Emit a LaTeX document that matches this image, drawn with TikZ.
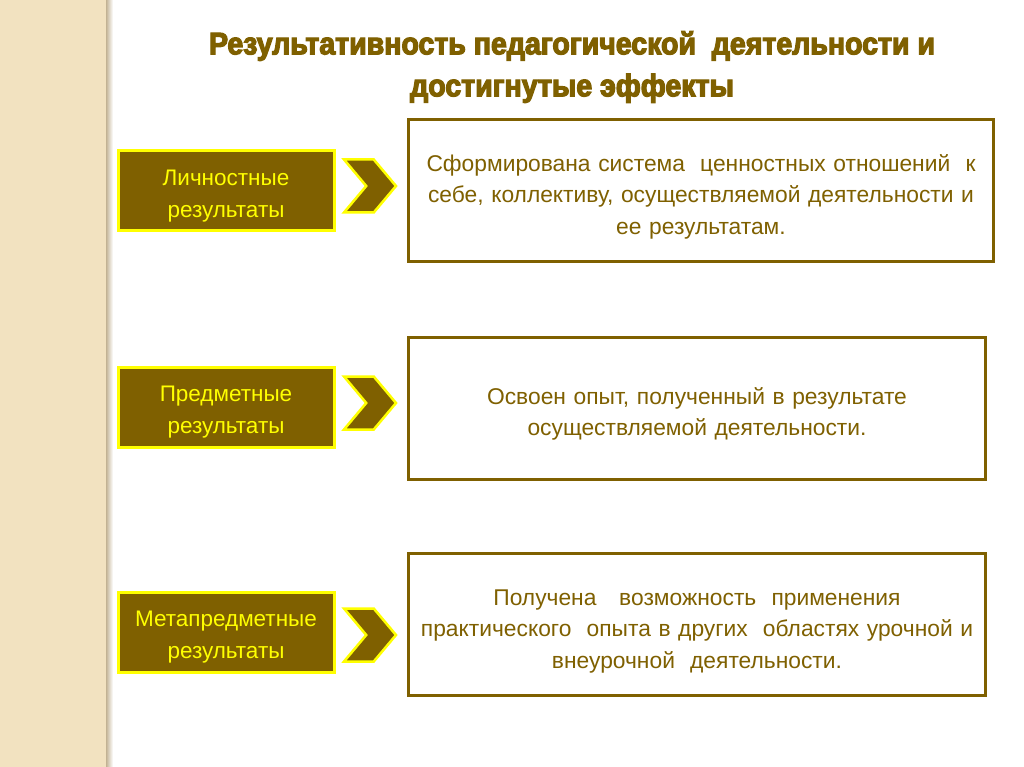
\documentclass[tikz,border=0pt]{standalone}
\usepackage{fontspec}
\setmainfont{Liberation Sans}
\newfontfamily\titlefont[FakeStretch=0.92,FakeBold=4]{Liberation Sans}
\usepackage{tikz}
\usetikzlibrary{shapes,positioning}
\definecolor{resbrown}{HTML}{7F6000}
\definecolor{resyellow}{HTML}{FFFF00}
\definecolor{stripbg}{HTML}{F2E2C0}
\definecolor{stripshade}{HTML}{C2B293}

\begin{document}
\begin{tikzpicture}[x=1pt,y=-1pt,node distance=6pt]
\tikzstyle{kind} = [rectangle, draw=resyellow, line width=3pt, fill=resbrown, text=resyellow, text width=210pt, align=center, minimum width=216pt, minimum height=80pt, inner sep=0pt, font=\fontsize{22.5}{32}\selectfont, execute at begin node=\rule{0pt}{26pt}]
\tikzstyle{chev}=[signal,
                  signal from=west,
                  signal to=east,
                  signal pointer angle=100,
                  draw=resyellow,
                  line width=2.5pt,
                  fill=resbrown,
                  minimum width=52pt,
                  minimum height=53pt,
                  inner sep=0pt]
\tikzstyle{effect} = [rectangle, draw=resbrown, line width=3pt, fill=white, text=resbrown, text width=570pt, align=center, minimum height=142pt, inner sep=0pt, font=\fontsize{22.8}{31.5}\selectfont, execute at begin node=\rule{0pt}{29pt}]
\useasboundingbox (0,0) rectangle (1024,767);
% left strip
\fill[stripbg] (0,0) rectangle (107,767);
\shade[left color=stripshade, right color=white] (106,0) rectangle (113,767);
% title
\node[text=resbrown, align=center, font=\titlefont\bfseries\fontsize{31}{42}\selectfont] (title) at (572,67)
  {Результативность педагогической~ деятельности и\\достигнутые эффекты};
% left boxes
\node[kind] (lichn) at (226,191) {Личностные\\результаты};
\node[kind] (predm) at (226,407) {Предметные\\результаты};
\node[kind] (meta) at (226,632) {Метапредметные\\результаты};
% chevrons
\node[chev] (chA) at (370,186) {};
\node[chev] (chB) at (370,403) {};
\node[chev] (chC) at (370,635) {};
% right boxes
\node[effect, minimum width=585pt] (effA) at (701,190.5)
  {Сформирована система~ ценностных отношений~ к\\себе, коллективу, осуществляемой деятельности и\\ее результатам.};
\node[effect, minimum width=577pt] (effB) at (697,408)
  {Освоен опыт, полученный в результате\\осуществляемой деятельности.};
\node[effect, minimum width=577pt] (effC) at (697,624.5)
  {Получена~~ возможность~ применения\\практического~ опыта в других~ областях урочной и\\внеурочной~ деятельности.};
\end{tikzpicture}
\end{document}
